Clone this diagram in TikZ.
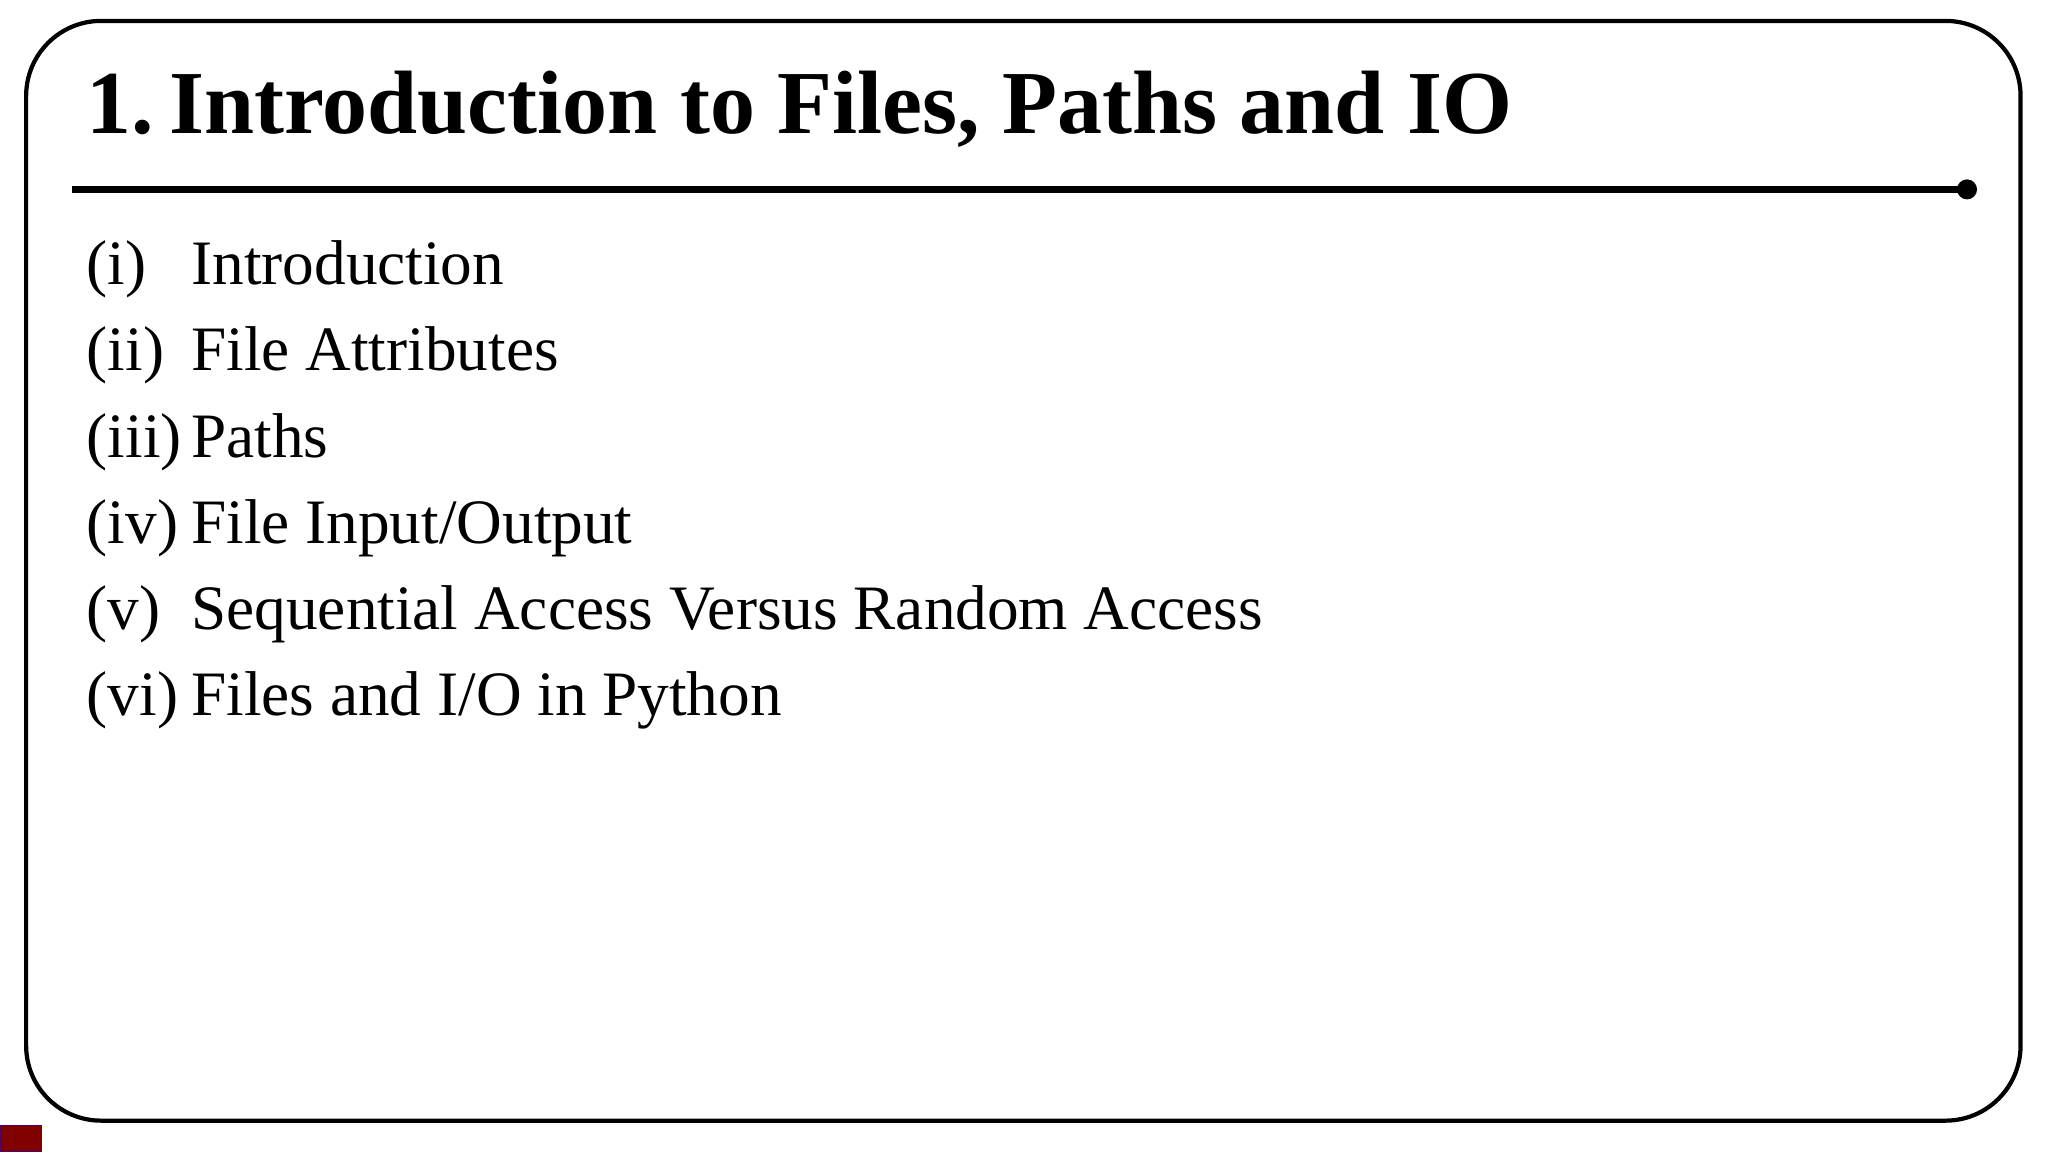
\documentclass[tikz,border=0pt]{standalone}
\usepackage{fontspec}
\setmainfont{Liberation Serif}
\definecolor{boxred}{RGB}{128,0,0}
\tikzset{
  itemlabel/.style={anchor=base west, inner sep=0, font=\fontsize{18}{20}\selectfont},
  itemtext/.style={anchor=base west, inner sep=0, font=\fontsize{18}{20}\selectfont},
}
\begin{document}
\begin{tikzpicture}[x=0.01306cm, y=-0.01306cm]
  \useasboundingbox (0,0) rectangle (1568,882);
  \draw[line width=1.2pt, rounded corners=0.75cm] (20,16) rectangle (1547,858);
  \node[anchor=base west, inner sep=0, font=\bfseries\fontsize{25.6}{30}\selectfont] (title) at (66,102) {1.\,Introduction to Files, Paths and IO};
  \coordinate (ruleL) at (55,145);
  \coordinate (ruleR) at (1506,145);
  \draw[line width=1.9pt] (ruleL) -- (ruleR);
  \fill (ruleR) circle (0.1cm);
  \foreach \lab/\txt [count=\i from 0] in {(i)/Introduction, (ii)/File Attributes, (iii)/Paths, (iv)/{File Input/Output}, (v)/Sequential Access Versus Random Access, (vi)/{Files and I/O in Python}}{
    \node[itemlabel] (lab\i) at (66,{218+66*\i}) {\lab};
    \node[itemtext] (item\i) at (146,{218+66*\i}) {\txt};
  }
  \draw[fill=boxred, draw=boxred!60!blue, line width=0.3pt] (0,862) rectangle (32,882);
\end{tikzpicture}
\end{document}
